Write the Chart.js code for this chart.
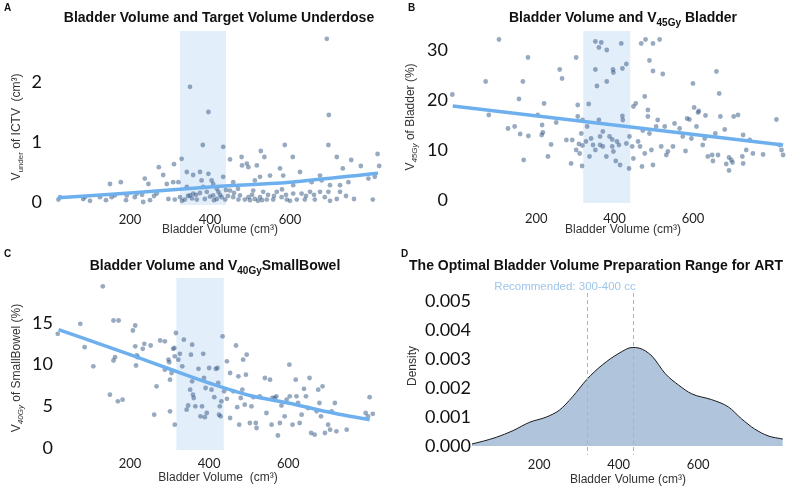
<!DOCTYPE html>
<html>
<head>
<meta charset="utf-8">
<script src="https://cdn.jsdelivr.net/npm/chart.js@4.4.0/dist/chart.umd.min.js"></script>
<style>
  body { margin: 0; background: #fff; }
  #wrap { position: relative; width: 792px; height: 486px; }
  #wrap canvas { position: absolute; }
</style>
</head>
<body>
<div id="wrap">
  <canvas id="chartA" width="396" height="243" style="left:0;top:0"></canvas>
  <canvas id="chartB" width="396" height="243" style="left:396px;top:0"></canvas>
  <canvas id="chartC" width="396" height="243" style="left:0;top:243px"></canvas>
  <canvas id="chartD" width="396" height="243" style="left:396px;top:243px"></canvas>
</div>
<script>
// ---- data ----
const xTicks = [200, 400, 600];

// A: bladder volume vs V_under of ICTV (cm3)
const aVolume = [692,350,396,382,433,697,696,587,329,450,310,272,527,479,536,607,717,753,819,823,777,732,575,480,492,496,517,375,358,396,283,237,433,404,342,379,625,675,583,550,525,512,458,308,292,321,177,150,246,408,746,679,654,700,796,
  21,25,83,87,125,154,162,192,212,217,233,267,296,312,325,337,350,358,367,375,387,392,408,417,421,429,438,450,458,471,475,487,496,508,512,525,533,542,558,567,579,592,608,617,629,637,650,662,675,687,696,717,725,807,812,725,608,342,383,417,
  330,345,355,365,400,410,425,440,445,460,470,500,505,520,530,545,560,590,600,640,660,700,740,760,100,140,190,250,260,230,580];
const aUnder = [2.72,1.92,1.50,0.95,0.92,1.45,0.95,0.95,0.72,0.71,0.63,0.58,0.85,0.75,0.75,0.75,0.75,0.70,0.80,0.60,0.60,0.56,0.56,0.61,0.64,0.58,0.61,0.50,0.45,0.47,0.45,0.39,0.42,0.36,0.50,0.36,0.50,0.44,0.44,0.44,0.42,0.36,0.33,0.33,0.30,0.33,0.33,0.30,0.30,0.30,0.33,0.36,0.33,0.28,0.39,
  0.04,0.08,0.05,0.08,0.08,0.08,0.11,0.11,0.08,0.14,0.00,0.14,0.05,0.04,0.08,0.04,0.11,0.14,0.04,0.15,0.05,0.17,0.11,0.05,0.17,0.08,0.04,0.19,0.08,0.04,0.11,0.04,0.08,0.19,0.05,0.08,0.17,0.04,0.04,0.17,0.08,0.04,0.14,0.04,0.14,0.04,0.17,0.04,0.17,0.08,0.17,0.05,0.17,0.04,0.42,0.28,0.28,0.25,0.25,0.22,
  0.02,0.10,0.06,0.12,0.09,0.03,0.12,0.20,0.10,0.15,0.22,0.03,0.12,0.02,0.03,0.12,0.10,0.12,0.02,0.10,0.12,0.02,0.10,0.05,0.02,0.03,0.03,0.03,0.10,0.12,0.21];
const aTrendX = [20, 200, 400, 600, 820];
const aTrendY = [0.07, 0.15, 0.25, 0.33, 0.48];
const aBand = [325, 440];

// B: bladder volume vs V45Gy of bladder (%)
const bVolume = [-14,105,71,79,156,166,179,128,145,159,168,180,204,214,215,217,220,230,238,260,266,251,277,289,292,302,306,306,309,311,315,317,318,327,334,340,345,351,351,355,351,360,366,360,363,363,370,379,380,380,387,394,396,397,394,397,403,406,411,414,417,420,421,420,430,430,438,437,445,448,448,454,460,465,468,472,477,477,479,470,485,485,489,494,489,498,498,498,506,510,515,519,523,528,532,536,549,553,566,574,581,585,591,596,600,603,609,613,615,625,630,632,638,649,651,657,660,664,667,670,681,685,692,692,698,701,704,715,726,728,736,753,779,813,821,826,830,728,745,302,318,330,336,370];
const bV45 = [21.1,32.1,23.7,17.0,20.2,23.7,28.5,14.3,14.7,13.2,8.0,12.8,17.0,13.0,15.0,13.5,19.3,8.7,11.1,26.1,24.3,15.5,12.0,7.3,12.0,28.5,19.0,16.7,11.2,9.3,13.3,6.8,10.9,11.7,19.2,12.3,11.0,10.0,26.1,22.8,31.7,30.5,31.5,16.0,12.7,11.0,10.7,8.7,23.7,30.0,12.7,12.1,26.1,25.5,10.7,9.7,7.8,11.7,11.0,7.0,31.3,16.8,16.0,26.3,27.2,11.3,12.7,6.3,10.7,8.3,18.7,19.3,11.7,10.7,31.3,13.9,20.7,9.3,32.1,6.7,18.0,16.7,13.3,10.0,27.9,31.3,25.8,7.0,14.7,16.0,32.1,10.7,25.2,14.7,9.0,9.7,10.7,15.3,14.3,12.7,9.8,16.3,16.1,12.3,23.3,18.5,14.7,17.5,17.8,11.0,12.3,16.9,8.7,9.0,7.8,13.3,25.7,9.0,21.3,16.7,14.1,7.2,8.5,5.9,8.0,7.5,16.7,17.0,8.7,7.3,10.0,9.3,9.1,16.1,11.0,10.0,9.0,13.0,12.0,10.0,16.0,14.7,8.7,13.7];
const bTrendX = [-13, 830];
const bTrendY = [18.8, 11.0];
const bBand = [320, 440];

// C: bladder volume vs V40Gy of small bowel (%)
const cVolume = [17,131,74,85,107,158,171,158,162,149,169,181,207,213,213,217,215,219,232,236,252,261,267,276,288,288,297,299,301,301,305,309,312,313,313,316,322,326,332,336,343,347,352,354,357,357,359,361,365,373,378,382,385,387,389,391,394,400,406,413,417,421,423,425,427,429,431,434,438,445,445,453,453,461,468,471,474,476,480,484,486,490,493,495,503,507,512,518,520,528,541,545,554,558,560,566,570,574,579,583,591,596,603,604,611,619,621,625,629,634,640,645,650,654,658,667,672,676,679,683,687,693,701,706,710,718,722,748,796,802,806,814];
const cV40 = [13.7,19.4,14.9,12.1,9.8,15.3,15.3,10.5,10.9,6.4,5.6,5.8,14.1,14.7,12.2,11.1,9.9,10.9,11.9,12.5,12.3,4.0,7.4,12.9,12.8,9.4,10.6,10.3,8.2,4.4,9.0,11.9,12.0,11.0,2.8,13.8,10.6,11.3,9.8,13.0,4.6,5.1,7.0,11.2,12.4,8.0,6.4,6.0,5.0,9.5,3.8,5.0,11.3,8.4,3.7,7.2,4.2,9.6,7.0,6.1,9.5,9.6,7.8,4.0,5.0,3.8,5.6,13.4,6.8,5.9,10.4,9.0,3.6,6.8,12.3,4.9,8.6,2.8,6.0,7.0,10.6,5.2,8.8,11.2,3.0,5.0,6.1,3.0,2.4,6.2,8.4,4.2,8.2,2.8,6.0,6.0,6.2,1.5,3.0,5.1,3.8,5.8,10.0,6.2,2.8,8.2,6.2,5.4,3.0,4.0,7.1,6.2,4.8,8.4,1.8,1.6,4.4,7.0,5.4,3.8,7.4,1.8,2.8,2.2,4.4,5.4,2.0,2.2,4.2,3.8,6.1,4.1];
const cTrendX = [19, 200, 293, 400, 503, 600, 714, 806];
const cTrendY = [14.2, 11.2, 9.6, 7.8, 6.3, 5.4, 4.2, 3.4];
const cBand = [317, 437];

// D: density of bladder volume
const densityX = [31, 60, 92, 134, 176, 218, 251, 284, 320, 359, 401, 434, 451, 484, 517, 551, 584, 634, 676, 709, 742, 776, 813];
const densityY = [0.00007, 0.00017, 0.0003, 0.00053, 0.00082, 0.001, 0.00124, 0.0017, 0.0023, 0.0028, 0.0032, 0.0034, 0.00338, 0.0031, 0.0025, 0.0021, 0.0018, 0.0016, 0.00135, 0.00094, 0.00059, 0.00035, 0.00024];
const dGuides = [320, 435];
const dTicks = [0, 0.001, 0.002, 0.003, 0.004, 0.005];

// ---- helpers ----
const pointColor = 'rgba(50,85,130,0.5)';
const trendColor = 'rgb(110,176,238)';
const bandColor = '#e3eefb';

function pairs(xs, ys) {
  return xs.map((v, i) => ({ x: v, y: ys[i] }));
}

function drawRich(ctx, it) {
  const size = it.size || 12;
  const fam = it.family || '"Liberation Sans", Arial, sans-serif';
  ctx.save();
  ctx.translate(it.x, it.y);
  if (it.rot) ctx.rotate(-Math.PI / 2);
  const parts = it.segs.map(s => {
    const sz = s.sub ? Math.round(size * 0.68) : size;
    const font = (s.italic ? 'italic ' : '') + (it.bold ? 'bold ' : '') + sz + 'px ' + fam;
    ctx.font = font;
    return { t: s.t, font, w: ctx.measureText(s.t).width, dy: s.sub ? size * 0.35 : 0 };
  });
  const total = parts.reduce((a, p) => a + p.w, 0);
  let x = it.align === 'left' ? 0 : -total / 2;
  ctx.fillStyle = it.color || '#111';
  ctx.textBaseline = 'middle';
  ctx.textAlign = 'left';
  parts.forEach(p => {
    ctx.font = p.font;
    ctx.fillText(p.t, x, p.dy);
    x += p.w;
  });
  ctx.restore();
}

function decor(spec) {
  return {
    id: 'decor',
    beforeDatasetsDraw(chart) {
      if (!spec.band) return;
      const { ctx, chartArea } = chart;
      const xs = chart.scales.x;
      const x0 = xs.getPixelForValue(spec.band[0]);
      const x1 = xs.getPixelForValue(spec.band[1]);
      ctx.save();
      ctx.fillStyle = bandColor;
      ctx.fillRect(x0, chartArea.top, x1 - x0, chartArea.bottom - chartArea.top);
      ctx.restore();
    },
    afterDatasetsDraw(chart) {
      if (!spec.guides) return;
      const { ctx, chartArea } = chart;
      const xs = chart.scales.x;
      ctx.save();
      ctx.strokeStyle = '#8dbce8';
      ctx.lineWidth = 1;
      ctx.setLineDash([4, 3]);
      spec.guides.forEach(v => {
        const px = Math.round(xs.getPixelForValue(v)) + 0.5;
        ctx.beginPath();
        ctx.moveTo(px, chartArea.top);
        ctx.lineTo(px, chartArea.bottom);
        ctx.stroke();
      });
      ctx.restore();
    },
    afterDraw(chart) {
      spec.texts.forEach(t => drawRich(chart.ctx, t));
    }
  };
}

function xAxis(min, max, h, pad) {
  return {
    type: 'linear', min: min, max: max,
    grid: { display: false, drawTicks: false },
    border: { display: false },
    ticks: { font: { family: 'Lato', size: 13 }, color: '#222', padding: pad },
    afterBuildTicks: s => { s.ticks = xTicks.map(v => ({ value: v })); },
    afterFit: s => { s.height = h; }
  };
}

function yAxis(min, max, w, pad, ticks, fmt) {
  return {
    type: 'linear', min: min, max: max,
    grid: { display: false, drawTicks: false },
    border: { display: false },
    ticks: {
      font: { family: 'Lato', size: 18 }, color: '#111', padding: pad,
      callback: fmt || (v => v)
    },
    afterBuildTicks: s => { s.ticks = ticks.map(v => ({ value: v })); },
    afterFit: s => { s.width = w; }
  };
}

function scatterPanel(id, pts, trend, spec, xs, ys, pad) {
  return new Chart(document.getElementById(id), {
    type: 'scatter',
    data: {
      datasets: [
        {
          type: 'line', data: trend, borderColor: trendColor, borderWidth: 3.5,
          pointRadius: 0, fill: false, tension: 0.4, cubicInterpolationMode: 'monotone'
        },
        {
          data: pts, backgroundColor: pointColor, borderWidth: 0, pointRadius: 2.4
        }
      ]
    },
    options: {
      responsive: false, animation: false, devicePixelRatio: 1,
      layout: { padding: pad },
      plugins: { legend: { display: false }, tooltip: { enabled: false } },
      scales: { x: xs, y: ys }
    },
    plugins: [decor(spec)]
  });
}

// ---- panel A ----
scatterPanel('chartA', pairs(aVolume, aUnder), pairs(aTrendX, aTrendY), {
  band: aBand,
  texts: [
    { segs: [{ t: 'A' }], x: 4, y: 8, size: 10, bold: true, align: 'left' },
    { segs: [{ t: 'Bladder Volume and Target Volume Underdose' }], x: 219, y: 18, size: 14, bold: true },
    { segs: [{ t: 'V' }, { t: 'under', sub: true }, { t: ' of ICTV  (cm³)' }], x: 17, y: 127, size: 12, rot: true, color: '#333' },
    { segs: [{ t: 'Bladder Volume (cm³)' }], x: 220, y: 230, size: 12, color: '#333' }
  ]
}, xAxis(10, 830, 38, 7), yAxis(-0.05, 2.85, 54, 12, [0, 1, 2]), { left: 0, right: 14, top: 31, bottom: 0 });

// ---- panel B ----
scatterPanel('chartB', pairs(bVolume, bV45), pairs(bTrendX, bTrendY), {
  band: bBand,
  texts: [
    { segs: [{ t: 'B' }], x: 12, y: 8, size: 10, bold: true, align: 'left' },
    { segs: [{ t: 'Bladder Volume and V' }, { t: '45Gy', sub: true }, { t: ' Bladder' }], x: 227, y: 18, size: 14, bold: true },
    { segs: [{ t: 'V' }, { t: '45Gy', sub: true, italic: true }, { t: ' of Bladder (%)' }], x: 15, y: 117, size: 12, rot: true, color: '#333' },
    { segs: [{ t: 'Bladder Volume (cm³)' }], x: 227, y: 230, size: 12, color: '#333' }
  ]
}, xAxis(-20, 840, 40, 8), yAxis(-0.6, 33.8, 54, 2, [0, 10, 20, 30]), { left: 0, right: 5, top: 31, bottom: 0 });

// ---- panel C ----
scatterPanel('chartC', pairs(cVolume, cV40), pairs(cTrendX, cTrendY), {
  band: cBand,
  texts: [
    { segs: [{ t: 'C' }], x: 4, y: 11, size: 10, bold: true, align: 'left' },
    { segs: [{ t: 'Bladder Volume and V' }, { t: '40Gy', sub: true }, { t: 'SmallBowel' }], x: 215, y: 23, size: 14, bold: true },
    { segs: [{ t: 'V' }, { t: '40Gy', sub: true, italic: true }, { t: ' of SmallBowel (%)' }], x: 17, y: 125, size: 12, rot: true, color: '#333' },
    { segs: [{ t: 'Bladder Volume  (cm³)' }], x: 218, y: 235, size: 12, color: '#333' }
  ]
}, xAxis(10, 850, 36, 6), yAxis(-0.24, 20.4, 55, 2, [0, 5, 10, 15]), { left: 0, right: 9, top: 35, bottom: 0 });

// ---- panel D ----
new Chart(document.getElementById('chartD'), {
  type: 'line',
  data: {
    datasets: [{
      data: pairs(densityX, densityY),
      borderColor: '#1a1a1a', borderWidth: 1,
      backgroundColor: '#b0c4dc', fill: 'origin',
      pointRadius: 0, tension: 0.4, cubicInterpolationMode: 'monotone'
    }]
  },
  options: {
    responsive: false, animation: false, devicePixelRatio: 1,
    layout: { padding: { left: 0, right: 8, top: 50, bottom: 0 } },
    plugins: { legend: { display: false }, tooltip: { enabled: false } },
    scales: {
      x: xAxis(31, 816, 31, 2),
      y: yAxis(-0.00031, 0.00528, 76, 1, dTicks, v => v.toFixed(3))
    }
  },
  plugins: [decor({
    guides: dGuides,
    texts: [
      { segs: [{ t: 'D' }], x: 5, y: 11, size: 10, bold: true, align: 'left' },
      { segs: [{ t: 'The Optimal Bladder Volume Preparation Range for ART' }], x: 200, y: 23, size: 14, bold: true },
      { segs: [{ t: 'Recommended: 300-400 cc' }], x: 169, y: 44, size: 11.5, color: '#9ec5ea' },
      { segs: [{ t: 'Density' }], x: 17, y: 123, size: 12, rot: true, color: '#333' },
      { segs: [{ t: 'Bladder Volume (cm³)' }], x: 232, y: 237, size: 12, color: '#333' }
    ]
  })]
});
</script>
</body>
</html>
